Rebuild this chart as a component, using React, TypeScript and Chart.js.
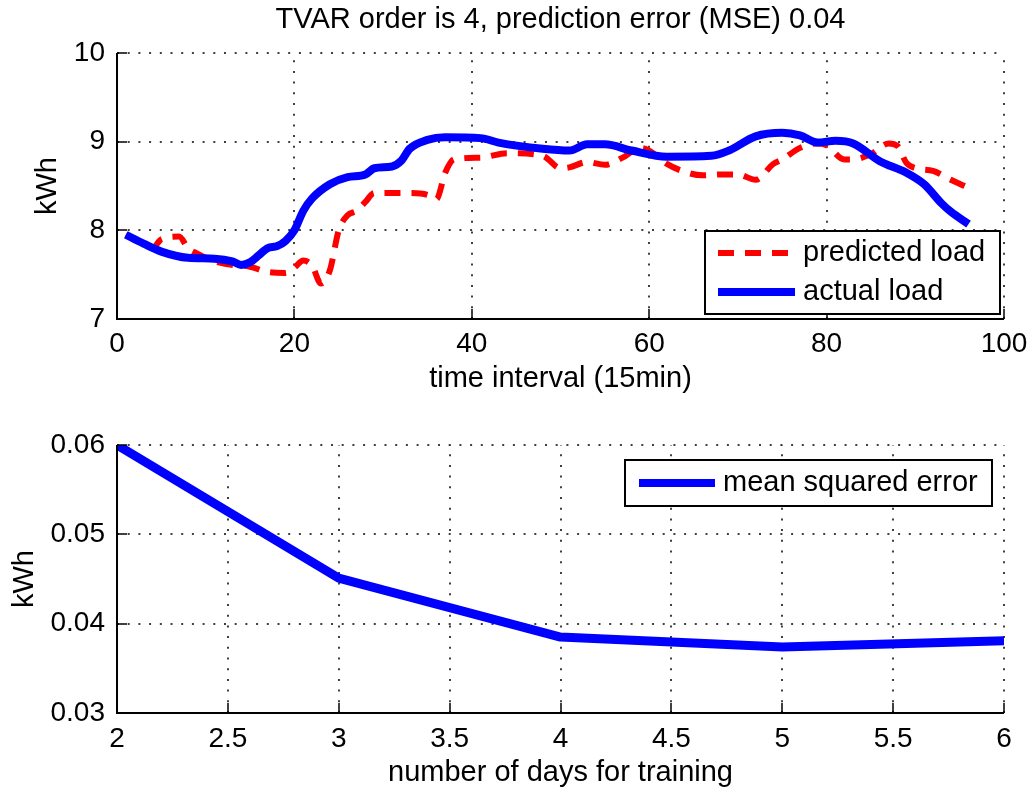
import React, { useEffect, useRef } from "react";
import { Chart, registerables } from "chart.js";
Chart.register(...registerables);

const FAMILY = "'Liberation Sans', Arial, Helvetica, sans-serif";

const titleText = "TVAR order is 4, prediction error (MSE) 0.04";
const topXTitle = "time interval (15min)";
const botXTitle = "number of days for training";
const yTitle = "kWh";

const topLegendLabels = ["predicted load", "actual load"];
const botLegendLabels = ["mean squared error"];

// actual load (15-min intervals)
const actualX = [1, 3, 5, 8, 11, 13, 14, 15, 16, 17, 18, 19, 20, 21, 22, 24, 26, 28, 29, 31, 32, 33, 35, 37, 41, 43, 48, 51, 53, 55, 58, 62, 67, 69, 72, 75, 77, 79, 81, 83, 86, 89, 91, 93, 94, 96];
const actualY = [7.95, 7.85, 7.76, 7.69, 7.68, 7.65, 7.61, 7.64, 7.72, 7.80, 7.82, 7.88, 8.00, 8.22, 8.36, 8.52, 8.60, 8.63, 8.70, 8.72, 8.78, 8.92, 9.02, 9.05, 9.04, 8.99, 8.92, 8.90, 8.97, 8.97, 8.90, 8.83, 8.84, 8.90, 9.06, 9.10, 9.07, 8.99, 9.01, 8.98, 8.78, 8.65, 8.52, 8.30, 8.21, 8.07];

// predicted load
const predictedX = [1, 3, 4, 5, 7, 8, 9, 11, 13, 15, 17, 19, 20, 21, 22, 23, 24, 25, 26, 27, 28, 29, 33, 35, 36, 37, 38, 41, 44, 48, 50, 51, 53, 55, 57, 59, 60, 62, 64, 66, 68, 70, 72, 74, 75, 77, 79, 80, 82, 83, 85, 87, 88, 89, 90, 92, 94, 96];
const predictedY = [7.95, 7.85, 7.80, 7.90, 7.93, 7.80, 7.74, 7.65, 7.61, 7.59, 7.53, 7.52, 7.58, 7.66, 7.60, 7.40, 7.55, 8.00, 8.17, 8.22, 8.32, 8.42, 8.42, 8.40, 8.35, 8.65, 8.80, 8.82, 8.87, 8.84, 8.70, 8.71, 8.77, 8.74, 8.82, 8.93, 8.90, 8.75, 8.66, 8.62, 8.63, 8.63, 8.57, 8.75, 8.80, 8.93, 8.98, 8.96, 8.80, 8.80, 8.86, 8.98, 8.95, 8.76, 8.70, 8.67, 8.57, 8.48];

// MSE vs training days
const trainingDays = [2, 3, 4, 5, 6];
const mseValues = [0.06, 0.0451, 0.0385, 0.0374, 0.0381];

const BLUE = "#0000ff";
const RED = "#ff0000";

function font(size: number) {
  return `${size}px ${FAMILY}`;
}

function framePlugin() {
  return {
    id: "matlabFrame",
    beforeDatasetsDraw(chart: any) {
      const { ctx, chartArea: ca } = chart;
      const xs = chart.scales.x;
      const ys = chart.scales.y;
      ctx.save();
      ctx.strokeStyle = "#000";
      ctx.lineWidth = 1.5;
      ctx.setLineDash([2, 8.7]);
      xs.ticks.forEach((t: any) => {
        const px = Math.round(xs.getPixelForValue(t.value));
        ctx.beginPath();
        ctx.moveTo(px, ca.bottom);
        ctx.lineTo(px, ca.top);
        ctx.stroke();
      });
      ys.ticks.forEach((t: any) => {
        const py = Math.round(ys.getPixelForValue(t.value));
        ctx.beginPath();
        ctx.moveTo(ca.left, py);
        ctx.lineTo(ca.right, py);
        ctx.stroke();
      });
      ctx.restore();
    },
    afterDatasetsDraw(chart: any) {
      const { ctx, chartArea: ca } = chart;
      const xs = chart.scales.x;
      const ys = chart.scales.y;
      ctx.save();
      ctx.setLineDash([]);
      ctx.strokeStyle = "#000";
      ctx.lineWidth = 1.5;
      xs.ticks.forEach((t: any) => {
        const px = Math.round(xs.getPixelForValue(t.value));
        ctx.beginPath();
        ctx.moveTo(px, ca.bottom);
        ctx.lineTo(px, ca.bottom - 10);
        ctx.stroke();
      });
      ys.ticks.forEach((t: any) => {
        const py = Math.round(ys.getPixelForValue(t.value));
        ctx.beginPath();
        ctx.moveTo(ca.left, py);
        ctx.lineTo(ca.left + 10, py);
        ctx.stroke();
      });
      ctx.lineWidth = 2;
      ctx.beginPath();
      ctx.moveTo(ca.left, ca.top);
      ctx.lineTo(ca.left, ca.bottom);
      ctx.lineTo(ca.right, ca.bottom);
      ctx.stroke();
      ctx.restore();
    },
  };
}

type LegendItem = { label: string; color: string; width: number; dash: number[] };

function legendPlugin(box: { x1: number; y1: number; x2: number; y2: number }, rows: number[], sx1: number, sx2: number, tx: number, items: LegendItem[], title?: string) {
  return {
    id: "matlabLegend",
    afterDraw(chart: any) {
      const { ctx, chartArea: ca } = chart;
      ctx.save();
      if (title) {
        ctx.fillStyle = "#000";
        ctx.font = font(29);
        ctx.textAlign = "center";
        ctx.textBaseline = "middle";
        ctx.fillText(title, (ca.left + ca.right) / 2, 20);
      }
      ctx.fillStyle = "#fff";
      ctx.fillRect(box.x1, box.y1, box.x2 - box.x1, box.y2 - box.y1);
      ctx.strokeStyle = "#000";
      ctx.lineWidth = 2;
      ctx.setLineDash([]);
      ctx.strokeRect(box.x1, box.y1, box.x2 - box.x1, box.y2 - box.y1);
      items.forEach((it, i) => {
        const y = rows[i];
        ctx.strokeStyle = it.color;
        ctx.lineWidth = it.width;
        ctx.setLineDash(it.dash);
        ctx.beginPath();
        ctx.moveTo(sx1, y);
        ctx.lineTo(sx2, y);
        ctx.stroke();
        ctx.setLineDash([]);
        ctx.fillStyle = "#000";
        ctx.font = font(29);
        ctx.textAlign = "left";
        ctx.textBaseline = "middle";
        ctx.fillText(it.label, tx, y);
      });
      ctx.restore();
    },
  };
}

function scales(xMin: number, xMax: number, xStep: number, yMin: number, yMax: number, yStep: number, xTitle: string, xHeight: number, xPad: number, xTitlePad: number, yTitlePad: number, yFmt: (v: number) => string, xFmt: (v: number) => string) {
  return {
    x: {
      type: "linear",
      min: xMin,
      max: xMax,
      grid: { display: false },
      border: { display: false },
      ticks: { stepSize: xStep, autoSkip: false, maxRotation: 0, padding: xPad, color: "#000", font: { family: FAMILY, size: 28 }, callback: (v: any) => xFmt(Number(v)) },
      title: { display: true, text: xTitle, color: "#000", font: { family: FAMILY, size: 29 }, padding: { top: 0, bottom: xTitlePad } },
      afterFit: (s: any) => { s.height = xHeight; },
    },
    y: {
      type: "linear",
      min: yMin,
      max: yMax,
      grid: { display: false },
      border: { display: false },
      ticks: { stepSize: yStep, autoSkip: false, padding: 4, color: "#000", font: { family: FAMILY, size: 28 }, callback: (v: any) => yFmt(Number(v)) },
      title: { display: true, text: yTitle, color: "#000", font: { family: FAMILY, size: 29 }, padding: { top: yTitlePad, bottom: 0 } },
      afterFit: (s: any) => { s.width = 117; },
    },
  };
}

export default function App() {
  const topRef = useRef<HTMLCanvasElement>(null);
  const botRef = useRef<HTMLCanvasElement>(null);

  useEffect(() => {
    const top = new Chart(topRef.current as HTMLCanvasElement, {
      type: "line",
      data: {
        datasets: [
          {
            label: topLegendLabels[1],
            data: actualX.map((x, i) => ({ x, y: actualY[i] })),
            borderColor: BLUE,
            borderWidth: 8,
            pointRadius: 0,
            fill: false,
            cubicInterpolationMode: "monotone",
            borderJoinStyle: "round",
            order: 0,
          },
          {
            label: topLegendLabels[0],
            data: predictedX.map((x, i) => ({ x, y: predictedY[i] })),
            borderColor: RED,
            borderWidth: 6,
            borderDash: [16, 11],
            pointRadius: 0,
            fill: false,
            cubicInterpolationMode: "monotone",
            order: 1,
          },
        ],
      } as any,
      options: {
        animation: false,
        responsive: false,
        devicePixelRatio: 1,
        layout: { padding: { left: 0, top: 53, right: 30, bottom: 395 } },
        plugins: { legend: { display: false }, tooltip: { enabled: false }, title: { display: false } },
        scales: scales(0, 100, 20, 7, 10, 1, topXTitle, 77, 0, 0, 31, (v) => String(v), (v) => String(v)) as any,
      },
      plugins: [
        framePlugin(),
        legendPlugin(
          { x1: 705, y1: 231, x2: 1000, y2: 314 },
          [253, 292],
          718,
          795,
          803,
          [
            { label: topLegendLabels[0], color: RED, width: 6, dash: [16, 11] },
            { label: topLegendLabels[1], color: BLUE, width: 8, dash: [] },
          ],
          titleText
        ),
      ],
    });

    const bot = new Chart(botRef.current as HTMLCanvasElement, {
      type: "line",
      data: {
        datasets: [
          {
            label: botLegendLabels[0],
            data: trainingDays.map((x, i) => ({ x, y: mseValues[i] })),
            borderColor: BLUE,
            borderWidth: 9,
            pointRadius: 0,
            fill: false,
            tension: 0,
            borderJoinStyle: "round",
          },
        ],
      } as any,
      options: {
        animation: false,
        responsive: false,
        devicePixelRatio: 1,
        layout: { padding: { left: 0, top: 445, right: 30, bottom: 0 } },
        plugins: { legend: { display: false }, tooltip: { enabled: false }, title: { display: false } },
        scales: scales(2, 6, 0.5, 0.03, 0.06, 0.01, botXTitle, 78, 1, 1, 8, (v) => v.toFixed(2), (v) => String(Math.round(v * 10) / 10)) as any,
      },
      plugins: [
        framePlugin(),
        legendPlugin(
          { x1: 625, y1: 460, x2: 992, y2: 506 },
          [483],
          639,
          715,
          723,
          [{ label: botLegendLabels[0], color: BLUE, width: 8, dash: [] }]
        ),
      ],
    });

    return () => {
      top.destroy();
      bot.destroy();
    };
  }, []);

  const canvasStyle: React.CSSProperties = { position: "absolute", left: 0, top: 0, width: 1034, height: 791 };
  return (
    <div style={{ position: "fixed", left: 0, top: 0, width: 1034, height: 791, background: "#fff" }}>
      <canvas ref={topRef} width={1034} height={791} style={canvasStyle} />
      <canvas ref={botRef} width={1034} height={791} style={canvasStyle} />
    </div>
  );
}
